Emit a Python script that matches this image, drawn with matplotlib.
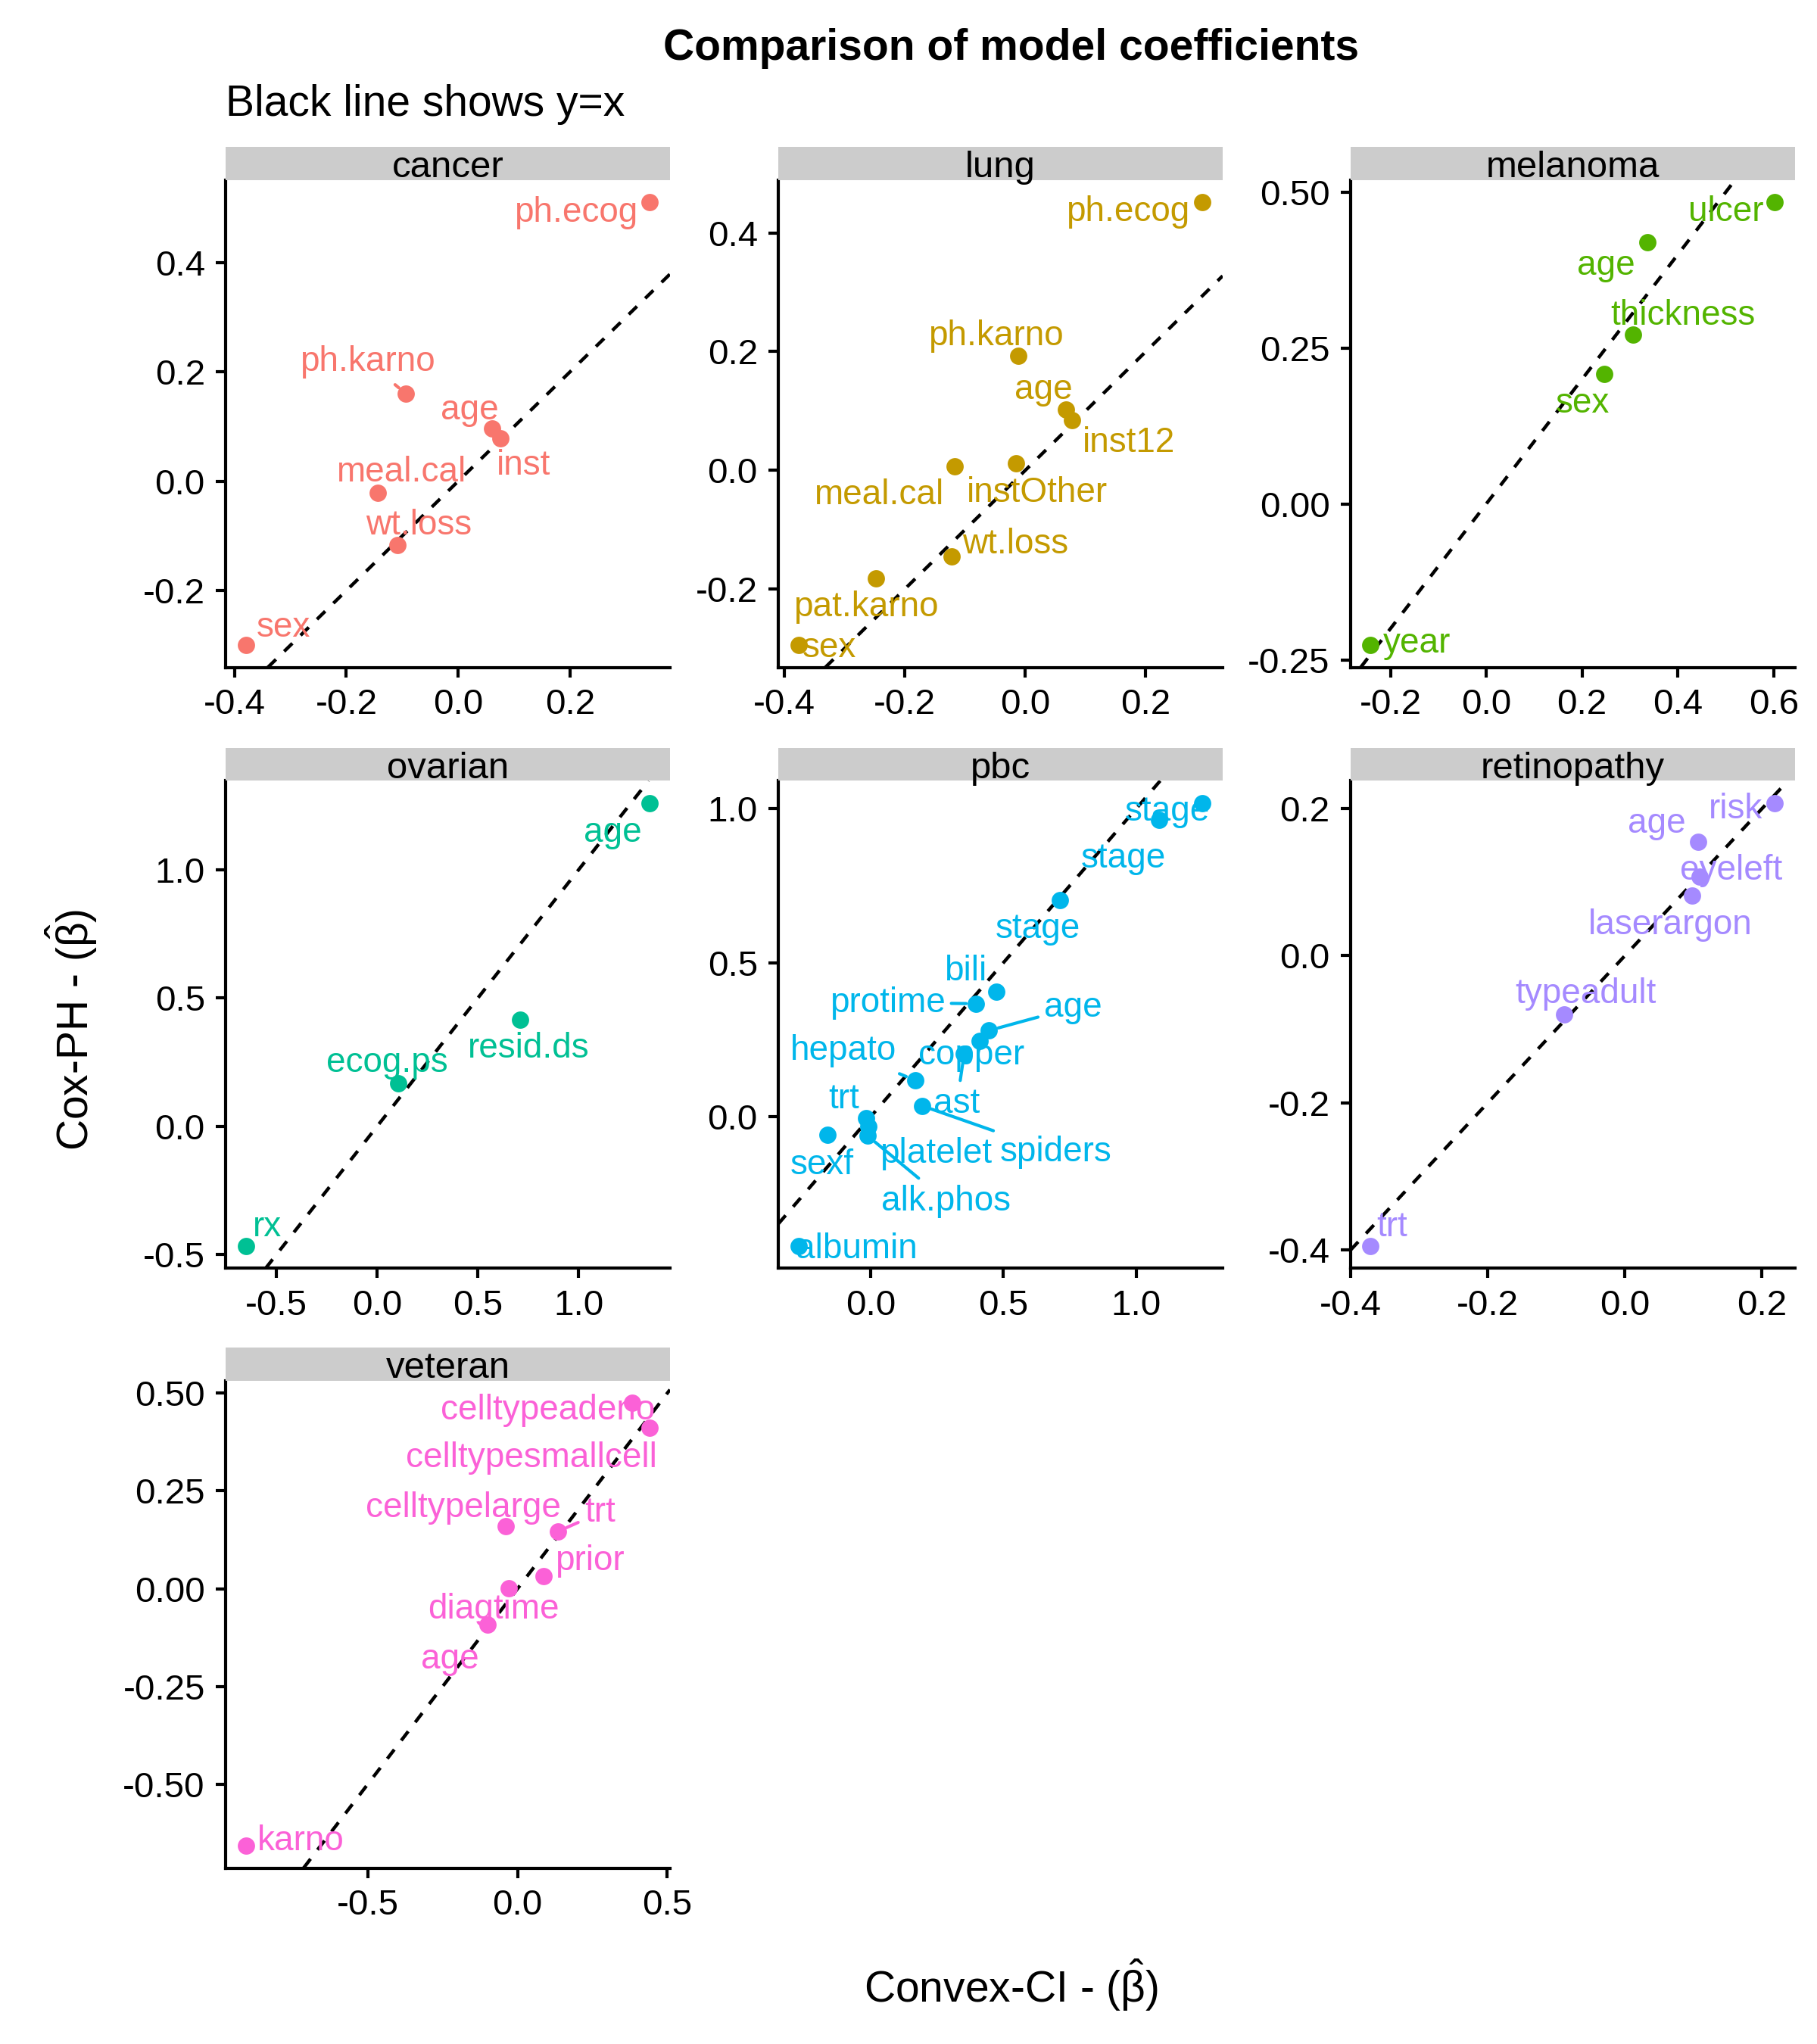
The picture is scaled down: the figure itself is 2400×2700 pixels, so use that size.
import matplotlib
matplotlib.use("Agg")
import matplotlib.pyplot as plt
from matplotlib import rcParams

rcParams["font.family"] = ["Liberation Sans", "DejaVu Sans"]
rcParams["axes.unicode_minus"] = False
rcParams["mathtext.fontset"] = "custom"
rcParams["mathtext.rm"] = "Liberation Sans"
rcParams["mathtext.it"] = "Liberation Sans"

# ---- data: (convex-CI beta, cox-PH beta) per term, per dataset ----
cancer_terms = ["ph.ecog", "ph.karno", "age", "inst", "meal.cal", "wt.loss", "sex"]
cancer_convex = [0.343, -0.093, 0.061, 0.076, -0.143, -0.108, -0.380]
cancer_cox = [0.511, 0.160, 0.096, 0.079, -0.021, -0.117, -0.300]

lung_terms = ["ph.ecog", "ph.karno", "age", "inst12", "meal.cal", "instOther",
              "wt.loss", "pat.karno", "sex"]
lung_convex = [0.294, -0.012, 0.067, 0.077, -0.118, -0.016, -0.122, -0.248, -0.377]
lung_cox = [0.452, 0.193, 0.102, 0.085, 0.0065, 0.012, -0.145, -0.182, -0.295]

melanoma_terms = ["ulcer", "age", "thickness", "sex", "year"]
melanoma_convex = [0.602, 0.337, 0.306, 0.247, -0.2415]
melanoma_cox = [0.484, 0.420, 0.271, 0.208, -0.2267]

ovarian_terms = ["age", "resid.ds", "ecog.ps", "rx"]
ovarian_convex = [1.353, 0.709, 0.106, -0.653]
ovarian_cox = [1.260, 0.415, 0.168, -0.468]

pbc_terms = ["stage", "stage", "stage", "bili", "protime", "age", "copper", "ast",
             "hepato", "spiders", "trt", "platelet", "alk.phos", "sexf", "albumin"]
pbc_convex = [1.249, 1.085, 0.713, 0.472, 0.395, 0.446, 0.410, 0.352,
              0.167, 0.194, -0.017, -0.008, -0.011, -0.163, -0.272]
pbc_cox = [1.018, 0.963, 0.704, 0.406, 0.367, 0.280, 0.247, 0.204,
           0.119, 0.0355, -0.004, -0.031, -0.062, -0.059, -0.420]

retinopathy_terms = ["risk", "age", "eyeleft", "laserargon", "typeadult", "trt"]
retinopathy_convex = [0.2185, 0.107, 0.1095, 0.0986, -0.0888, -0.371]
retinopathy_cox = [0.2077, 0.155, 0.1077, 0.082, -0.0795, -0.395]

veteran_terms = ["celltypeadeno", "celltypesmallcell", "celltypelarge", "trt",
                 "prior", "diagtime", "age", "karno"]
veteran_convex = [0.384, 0.4417, -0.039, 0.135, 0.086, -0.029, -0.1006, -0.908]
veteran_cox = [0.476, 0.412, 0.159, 0.1465, 0.0327, 0.001, -0.091, -0.658]

# tick values per panel
cancer_xticks = [-0.4, -0.2, 0.0, 0.2];   cancer_yticks = [-0.2, 0.0, 0.2, 0.4]
lung_xticks = [-0.4, -0.2, 0.0, 0.2];     lung_yticks = [-0.2, 0.0, 0.2, 0.4]
melanoma_xticks = [-0.2, 0.0, 0.2, 0.4, 0.6]; melanoma_yticks = [-0.25, 0.0, 0.25, 0.50]
ovarian_xticks = [-0.5, 0.0, 0.5, 1.0];   ovarian_yticks = [-0.5, 0.0, 0.5, 1.0]
pbc_xticks = [0.0, 0.5, 1.0];             pbc_yticks = [0.0, 0.5, 1.0]
retinopathy_xticks = [-0.4, -0.2, 0.0, 0.2]; retinopathy_yticks = [-0.4, -0.2, 0.0, 0.2]
veteran_xticks = [-0.5, 0.0, 0.5];        veteran_yticks = [-0.50, -0.25, 0.0, 0.25, 0.50]

# label placement (offset in points from the point), like ggrepel's result
cancer_off = [(-23.5, -2.5), (-12.2, 11), (-7.1, 6.6), (7.2, -7.9), (7.2, 7.2), (6.7, 7.2), (12, 6.4)]
lung_off = [(-23.7, -2.4), (-7.2, 6.9), (-7.1, 7.0), (18.1, -6.4), (-24, -8.3), (6.9, -8.6),
            (20.1, 4.7), (-3.2, -8.3), (9.7, 0)]
melanoma_off = [(-15.4, -2.4), (-13.1, -6.8), (15.9, 6.9), (-6.9, -8.6), (14.7, 1.4)]
ovarian_off = [(-11.7, -8.7), (2.8, -8.4), (-3.6, 7.2), (6.9, 6.8)]
pbc_off = [(-11.2, -1.8), (-11.3, -11.3), (-7.0, -8.5), (-9.8, 7.2), (-28, 1.1), (26.7, 8.1),
           (-2.5, -3.9), (-2.3, -14.9), (-22.7, 10.1), (42.3, -14), (-7.1, 6.8), (21.3, -7.9),
           (24.9, -19.9), (-1.7, -8.7), (18.4, 0)]
retinopathy_off = [(-12.4, -1.2), (-13.1, 6.6), (9.8, 2.6), (-7.1, -8.6), (6.9, 7.2), (6.9, 6.8)]
veteran_off = [(-26.8, -1.6), (-37.5, -8.9), (-13.6, 6.7), (13.3, 6.7), (14.8, 5.5),
               (-4.9, -5.9), (-11.9, -10.4), (17.5, 2.2)]

# labels that got a leader segment
segs = {"cancer": {"ph.karno"},
        "pbc": {"protime", "age", "ast", "hepato", "spiders", "alk.phos"},
        "veteran": {"trt"}}

panels = [
    ("cancer", cancer_terms, cancer_convex, cancer_cox, cancer_xticks, cancer_yticks, cancer_off, 1),
    ("lung", lung_terms, lung_convex, lung_cox, lung_xticks, lung_yticks, lung_off, 1),
    ("melanoma", melanoma_terms, melanoma_convex, melanoma_cox, melanoma_xticks, melanoma_yticks, melanoma_off, 2),
    ("ovarian", ovarian_terms, ovarian_convex, ovarian_cox, ovarian_xticks, ovarian_yticks, ovarian_off, 1),
    ("pbc", pbc_terms, pbc_convex, pbc_cox, pbc_xticks, pbc_yticks, pbc_off, 1),
    ("retinopathy", retinopathy_terms, retinopathy_convex, retinopathy_cox, retinopathy_xticks, retinopathy_yticks, retinopathy_off, 1),
    ("veteran", veteran_terms, veteran_convex, veteran_cox, veteran_xticks, veteran_yticks, veteran_off, 2),
]
colors = ["#F8766D", "#C49A00", "#53B400", "#00C094", "#00B6EB", "#A58AFF", "#FB61D7"]

fig = plt.figure(figsize=(8, 9), dpi=300)
W, H = 1394.0, 1568.0
col_left = [173, 597, 1036]
row_bottom = [512, 973, 1433]
pw, ph, sh = 341, 374, 25.5

for k, (name, terms, cx, cy, xt, yt, off, ydec) in enumerate(panels):
    r, c = divmod(k, 3)
    l = col_left[c] / W
    b = 1 - row_bottom[r] / H
    ax = fig.add_axes([l, b, pw / W, ph / H])
    col = colors[k]

    def lims(v):
        lo, hi = min(v), max(v)
        pad = 0.05 * (hi - lo)
        return lo - pad, hi + pad
    ax.set_xlim(*lims(cx)); ax.set_ylim(*lims(cy))

    ax.axline((0, 0), slope=1, color="black", lw=1.07, ls=(0, (3.4, 3.4)), zorder=2)
    ax.scatter(cx, cy, s=30, color=col, zorder=3, linewidths=0)
    for t, x, y, (dx, dy) in zip(terms, cx, cy, off):
        kw = {}
        if t in segs.get(name, ()):
            kw["arrowprops"] = dict(arrowstyle="-", color=col, lw=1.0, shrinkA=0, shrinkB=3)
        ax.annotate(t, (x, y), xytext=(dx, dy - 0.8), textcoords="offset points",
                    ha="center", va="center", fontsize=11, color=col, zorder=4, **kw)

    ax.set_xticks(xt); ax.set_yticks(yt)
    ax.set_xticklabels([f"{v:.1f}" for v in xt])
    ax.set_yticklabels([f"{v:.{ydec}f}" for v in yt])
    for s in ["top", "right"]:
        ax.spines[s].set_visible(False)
    for s in ["left", "bottom"]:
        ax.spines[s].set_linewidth(1.0)
    ax.tick_params(labelsize=11.4, length=3.2, width=1.0, pad=3.3, colors="black")

    strip = fig.add_axes([l, b + ph / H, pw / W, sh / H])
    strip.set_facecolor("#CCCCCC")
    strip.set_xticks([]); strip.set_yticks([])
    for s in strip.spines.values():
        s.set_visible(False)
    strip.text(0.5, 0.08, name, ha="center", va="baseline", fontsize=11.8,
               transform=strip.transAxes)

fig.text(775.5 / W, 1 - 37 / H, "Comparison of model coefficients", ha="center",
         va="center", fontsize=13.7, fontweight="bold")
fig.text(173 / W, 1 - 80 / H, "Black line shows y=x", ha="left", va="center", fontsize=13.7)
fig.text(775.5 / W, 1 - 1523 / H, r"Convex-CI - ($\hat{\beta}$)", ha="center",
         va="center", fontsize=13.7)
fig.text(55 / W, 1 - 790 / H, r"Cox-PH - ($\hat{\beta}$)", ha="center", va="center",
         rotation=90, fontsize=13.7)

fig.savefig("out.png", dpi=300, facecolor="white")
